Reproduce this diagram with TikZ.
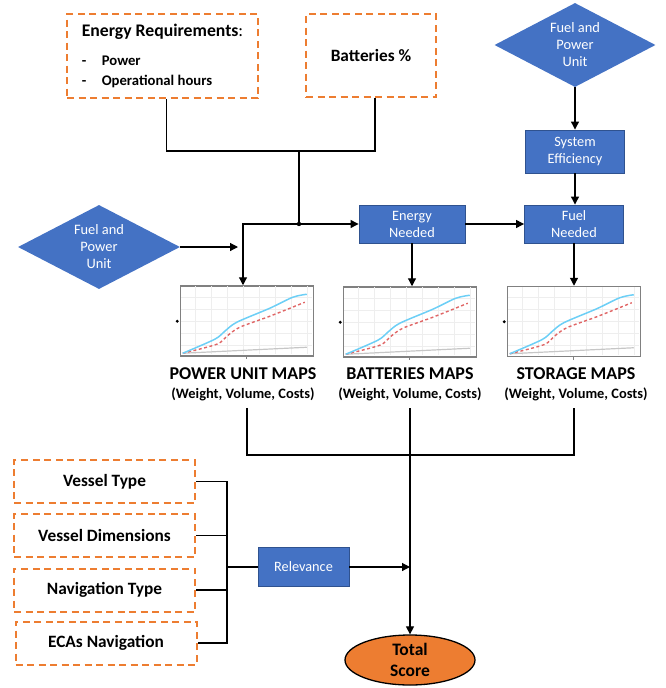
\documentclass[tikz,border=0pt]{standalone}
\usepackage{fontspec}
\setmainfont{Carlito}
\usepackage{tikz}
\usetikzlibrary{positioning,shapes.geometric,arrows.meta}

\definecolor{dashorange}{HTML}{ED7D31}
\definecolor{boxblue}{HTML}{4472C4}
\definecolor{boxedge}{HTML}{2F528F}
\definecolor{curveblue}{HTML}{6DCFF6}
\definecolor{curvered}{HTML}{E06666}
\definecolor{gridgray}{HTML}{EEEEEE}

% small chart drawn inside a map frame
\newcommand{\mapcurves}[1]{%
\begin{scope}[shift={(#1.north west)}]
\foreach \gx in {16,32,...,128} \draw [gridgray, line width=0.6pt] (\gx,-1) -- (\gx,-69);
\foreach \gy in {-12,-24,...,-60} \draw [gridgray, line width=0.6pt] (1,\gy) -- (132,\gy);
\draw [gray!45, line width=1.2pt] (3,-68) -- (127,-62);
\draw [curvered, line width=1.4pt, dash pattern=on 3pt off 2.5pt] plot [smooth] coordinates {(3,-68) (37,-59) (47,-51) (60,-42) (90,-31) (125,-17)};
\draw [curveblue, line width=1.5pt] plot [smooth] coordinates {(3,-68) (35,-54) (45,-46) (57,-37) (90,-23) (113,-12) (127,-9)};
\fill [black] (-2.5,-36) circle (1.6);
\draw [gray, line width=0.8pt] (67,-70) -- (67,-74);
\end{scope}}

\begin{document}
\begin{tikzpicture}[x=1pt,y=1pt,
  dashbox/.style={draw=dashorange, line width=2pt, dash pattern=on 7pt off 4.5pt,
    minimum width=181, minimum height=43, inner sep=0pt,
    font=\fontsize{17.3}{20}\selectfont\bfseries},
  bluebox/.style={draw=boxedge, fill=boxblue, line width=0.9pt, text=white,
    align=center, inner sep=0pt, font=\fontsize{14.3}{17}\selectfont},
  bluediamond/.style={diamond, fill=boxblue, text=white, align=center,
    aspect=1.9, inner sep=0pt, minimum width=161, minimum height=84,
    font=\fontsize{14.4}{17}\selectfont},
  mapframe/.style={draw=gray, line width=1.5pt, minimum width=133,
    minimum height=70, inner sep=0pt},
  maptitle/.style={align=center, inner sep=0pt,
    font=\fontsize{18}{19}\selectfont\bfseries},
  link/.style={black, line width=1.2pt},
  arr/.style={link, -{Triangle[length=8pt,width=8pt]}}
]
\useasboundingbox (0,0) rectangle (666,-688);

% inputs at the top
\node [dashbox, minimum width=191, minimum height=84, align=left] (req) at (162.5,-56)
  {{\fontsize{17.7}{20}\selectfont Energy Requirements}{\fontsize{17.7}{20}\selectfont\mdseries :}\\[9pt]
   {\fontsize{14.7}{18}\selectfont\makebox[20pt][l]{-}Power}\\
   {\fontsize{14.7}{18}\selectfont\makebox[20pt][l]{-}Operational hours}};
\node [dashbox, minimum width=130, minimum height=83] (bat) at (371,-55.5) {Batteries \%};
\node [bluediamond] (fpu1) at (575,-45) {Fuel and\\Power\\Unit};
\node [bluebox, minimum width=99, minimum height=43] (seff) at (575,-151.5) {System\\Efficiency};
\node [bluebox, minimum width=99, minimum height=38] (fneed) at (574,-224) {Fuel\\Needed};
\node [bluebox, minimum width=106, minimum height=38] (eneed) at (412,-224) {Energy\\Needed};
\node [bluediamond, minimum width=162] (fpu2) at (99,-247) {Fuel and\\Power\\Unit};

% maps
\node [mapframe] (ch1) at (247,-321) {};
\node [mapframe] (ch2) at (410,-322) {};
\node [mapframe] (ch3) at (574,-321.5) {};
\mapcurves{ch1}
\mapcurves{ch2}
\mapcurves{ch3}
\node [maptitle] (pum) at (243,-384) {POWER UNIT MAPS\\{\fontsize{14.4}{18}\selectfont (Weight, Volume, Costs)}};
\node [maptitle] (bm) at (410,-384.5) {BATTERIES MAPS\\{\fontsize{14.4}{18}\selectfont (Weight, Volume, Costs)}};
\node [maptitle] (sm) at (576,-384) {STORAGE MAPS\\{\fontsize{14.4}{18}\selectfont (Weight, Volume, Costs)}};

% vessel inputs
\node [dashbox] (vt) at (104.5,-481.5) {Vessel Type};
\node [dashbox] (vd) at (104.5,-535.5) {Vessel Dimensions};
\node [dashbox] (nt) at (104.5,-590) {Navigation Type};
\node [dashbox] (ecas) at (106,-643) {ECAs Navigation};
\node [bluebox, minimum width=91, minimum height=39] (rel) at (303.5,-567) {Relevance};
\node [ellipse, draw, line width=1.3pt, fill=dashorange, minimum width=130, minimum height=50,
  inner sep=0pt, align=center, font=\fontsize{17.5}{21}\selectfont\bfseries] (tot) at (410,-660) {Total\\Score};

% junction points
\coordinate (top) at (299,-151);
\coordinate (jn) at (299,-224);
\coordinate (jl) at (243,-224);
\coordinate (fpuend) at (238,-247);
\coordinate (bus) at (0,-455);
\coordinate (brk) at (227,-567);

% connectors
\draw [link] ([xshift=4]req.south) -- ([xshift=4]req.south |- top) -- ([xshift=4]bat.south |- top) -- ([xshift=4]bat.south);
\draw [link] (top) -- (jn);
\fill (jn) circle (2.2);
\draw [arr] (jn) -- (jn -| eneed.west);
\draw [arr] (jn) -- (jl) -- (jl |- ch1.north);
\draw [arr] (fpu2.east) -- (fpuend);
\draw [arr] (fpu1.south) -- (seff.north);
\draw [arr] (seff.south) -- (seff.south |- fneed.north);
\draw [arr] (eneed.east) -- (fneed.west);
\draw [arr] (eneed.south) -- (eneed.south |- ch2.north);
\draw [arr] (fneed.south) -- (fneed.south |- ch3.north);
\draw [link, shorten <=7pt] (ch1.south |- pum.south) -- (ch1.south |- bus) -- (ch3.south |- bus) -- (ch3.south |- sm.south) [shorten >=7pt];
\draw [arr, shorten <=7pt] (tot.north |- bm.south) -- (tot.north);
\draw [link] (vt.east) -- (vt.east -| brk) -- (ecas.east -| brk) -- (ecas.east);
\draw [link] (vd.east) -- (vd.east -| brk);
\draw [link] (nt.east) -- (nt.east -| brk);
\draw [link] (brk) -- (rel.west);
\draw [arr] (rel.east) -- (rel.east -| tot.north);
\end{tikzpicture}
\end{document}
